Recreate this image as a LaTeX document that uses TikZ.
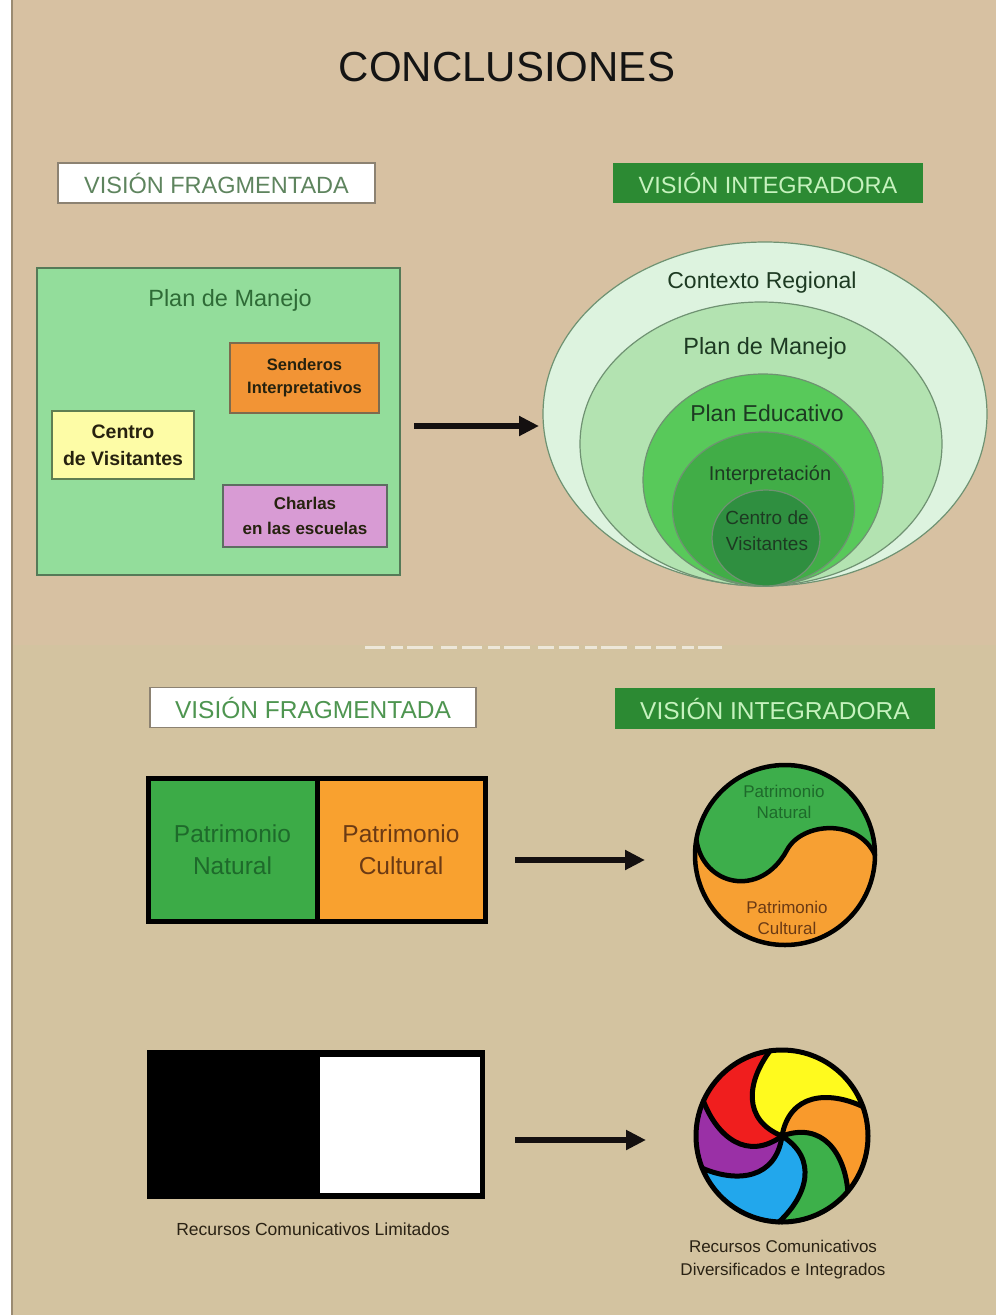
\documentclass[tikz,border=0pt]{standalone}
\usepackage{fontspec}
\setmainfont{Liberation Sans}
\usetikzlibrary{arrows.meta,calc}
\definecolor{bgtop}{HTML}{D7C1A2}
\definecolor{bgbot}{HTML}{D3C3A0}
\definecolor{edgeline}{HTML}{9A8B72}
\definecolor{titlecol}{HTML}{141414}
\definecolor{hdrborder}{HTML}{8C8272}
\definecolor{hdrtextA}{HTML}{5E845E}
\definecolor{hdrtextB}{HTML}{4E9550}
\definecolor{hdrfill}{HTML}{2C8A33}
\definecolor{hdrtextR}{HTML}{C6F2BE}
\definecolor{pmfill}{HTML}{93DD9B}
\definecolor{pmborder}{HTML}{557A58}
\definecolor{pmtext}{HTML}{2E6B36}
\definecolor{senfill}{HTML}{F29435}
\definecolor{senborder}{HTML}{7D6B4E}
\definecolor{cenfill}{HTML}{FDFCA6}
\definecolor{cenborder}{HTML}{5F7E52}
\definecolor{chafill}{HTML}{D89BD4}
\definecolor{chaborder}{HTML}{5E6D62}
\definecolor{boxtext}{HTML}{26220F}
\definecolor{arrowcol}{HTML}{141010}
\definecolor{ea}{HTML}{DDF3DF}
\definecolor{eb}{HTML}{B3E3B1}
\definecolor{ec}{HTML}{58C95A}
\definecolor{ed}{HTML}{41AD47}
\definecolor{ee}{HTML}{2F8F40}
\definecolor{ellborder}{HTML}{6F9272}
\definecolor{elltext}{HTML}{1D3A22}
\definecolor{patgreen}{HTML}{3CAB47}
\definecolor{patorange}{HTML}{F9A12F}
\definecolor{natText}{HTML}{1E6A2B}
\definecolor{culText}{HTML}{6B3A14}
\definecolor{yygreen}{HTML}{3DAE4B}
\definecolor{yyorange}{HTML}{F7A033}
\definecolor{rwred}{HTML}{F01E1E}
\definecolor{rwyellow}{HTML}{FFFA1E}
\definecolor{rworange}{HTML}{F99A2C}
\definecolor{rwgreen}{HTML}{3DB04A}
\definecolor{rwblue}{HTML}{22A7EC}
\definecolor{rwpurple}{HTML}{9A30A6}
\definecolor{captext}{HTML}{2A2214}
\tikzset{
  hdrleft/.style={draw=hdrborder, line width=1.5pt, fill=white, inner sep=0pt},
  hdrright/.style={fill=hdrfill, text=hdrtextR, inner sep=0pt},
  smallbox/.style={line width=1.3pt, inner sep=0pt, align=center, text=boxtext},
  bigarrow/.style={draw=arrowcol, line width=6pt, -{Triangle[length=20pt,width=19pt]}},
  elltxt/.style={text=elltext, inner sep=0pt},
  ellline/.style={draw=ellborder, line width=1.2pt},
  pat/.style={draw=black, line width=5pt, inner sep=0pt, align=center},
}
\begin{document}
\begin{tikzpicture}[x=1pt,y=1pt]
\useasboundingbox (0,0) rectangle (996,-1315);
% background
\fill[bgtop] (0,0) rectangle (996,-645);
\fill[bgbot] (0,-645) rectangle (996,-1315);
\fill[white] (0,0) rectangle (11,-1315);
\fill[edgeline] (11,0) rectangle (13,-1315);

% title
\node[font=\fontsize{42}{50}\selectfont, text=titlecol, inner sep=0pt] (title) at (507,-67) {CONCLUSIONES};

% top headers
\node[hdrleft, minimum width=317pt, minimum height=40pt, text=hdrtextA, font=\fontsize{23.5}{28}\selectfont] (vf1) at (216.5,-183) {VISIÓN FRAGMENTADA};
\node[hdrright, minimum width=310pt, minimum height=40pt, font=\fontsize{23.5}{28}\selectfont] (vi1) at (768,-183) {VISIÓN INTEGRADORA};

% fragmented plan
\node[draw=pmborder, fill=pmfill, line width=1.8pt, minimum width=363pt, minimum height=307pt, inner sep=0pt] (pm) at (218.5,-421.5) {};
\node[text=pmtext, font=\fontsize{23.5}{28}\selectfont, inner sep=0pt] (pmt) at (230,-300) {Plan de Manejo};
\node[smallbox, draw=senborder, fill=senfill, minimum width=149pt, minimum height=70pt, font=\bfseries\fontsize{16.5}{23}\selectfont] (sen) at (304.5,-378) {Senderos\\Interpretativos};
\node[smallbox, draw=cenborder, fill=cenfill, minimum width=142pt, minimum height=68pt, font=\bfseries\fontsize{19.5}{27}\selectfont] (cen) at (123,-445) {Centro\\de Visitantes};
\node[smallbox, draw=chaborder, fill=chafill, minimum width=164pt, minimum height=62pt, font=\bfseries\fontsize{17}{25}\selectfont] (cha) at (305,-516) {Charlas\\en las escuelas};

% arrow 1
\coordinate (a1s) at (414,-426);
\coordinate (a1e) at (539,-426);
\draw[bigarrow] (a1s) -- (a1e);

% nested ellipses
\filldraw[ellline, fill=ea] (765,-414) ellipse [x radius=222, y radius=172];
\filldraw[ellline, fill=eb] (761,-444) ellipse [x radius=181, y radius=142];
\filldraw[ellline, fill=ec] (763,-480) ellipse [x radius=120, y radius=106];
\filldraw[ellline, fill=ed] (763.5,-509) ellipse [x radius=91, y radius=77];
\filldraw[ellline, fill=ee] (766,-538) ellipse [x radius=54, y radius=48];
\node[elltxt, font=\fontsize{23}{28}\selectfont] (ctx) at (762,-283) {Contexto Regional};
\node[elltxt, font=\fontsize{23.5}{28}\selectfont] (epm) at (765,-348) {Plan de Manejo};
\node[elltxt, font=\fontsize{23}{28}\selectfont] (epe) at (767,-413) {Plan Educativo};
\node[elltxt, font=\fontsize{20}{24}\selectfont] (eint) at (770,-475) {Interpretación};
\node[elltxt, align=center, font=\fontsize{19}{26}\selectfont] (ecv) at (767,-531) {Centro de\\Visitantes};

% artifact line
\coordinate (artl) at (365,-647);
\coordinate (artr) at (722,-647);
\draw[white, opacity=0.6, line width=3pt, dash pattern=on 20pt off 6pt on 12pt off 4pt on 26pt off 8pt on 16pt off 5pt] (artl) -- (artr);

% bottom headers
\node[hdrleft, minimum width=326pt, minimum height=40pt, text=hdrtextB, font=\fontsize{24.5}{29}\selectfont] (vf2) at (313,-707.5) {VISIÓN FRAGMENTADA};
\node[hdrright, minimum width=320pt, minimum height=41pt, font=\fontsize{24.5}{29}\selectfont] (vi2) at (775,-708.5) {VISIÓN INTEGRADORA};

% patrimonio boxes
\node[pat, fill=patgreen, text=natText, minimum width=169pt, minimum height=143pt, font=\fontsize{24.5}{32}\selectfont] (pn) at (232.5,-849.5) {Patrimonio\\Natural};
\node[pat, fill=patorange, text=culText, minimum width=168pt, minimum height=143pt, font=\fontsize{24.5}{32}\selectfont] (pc) at (401,-849.5) {Patrimonio\\Cultural};

% arrow 2
\coordinate (a2s) at (515,-860);
\coordinate (a2e) at (645,-860);
\draw[bigarrow] (a2s) -- (a2e);

% yin-yang
\coordinate (yy) at (785,-855);
\fill[yyorange] (yy) circle[radius=90];
\fill[yygreen] (696.4,-839.4) .. controls (702,-885) and (760,-900) .. (787,-850) .. controls (802,-822) and (858,-818) .. (875,-855) arc[start angle=0, end angle=170, radius=90] -- cycle;
\draw[black, line width=4.5pt] (696.4,-839.4) .. controls (702,-885) and (760,-900) .. (787,-850) .. controls (802,-822) and (858,-818) .. (875,-855);
\draw[black, line width=4.5pt] (yy) circle[radius=90];
\node[text=natText, align=center, inner sep=0pt, font=\fontsize{17}{21}\selectfont] (yyn) at (784,-802) {Patrimonio\\Natural};
\node[text=culText, align=center, inner sep=0pt, font=\fontsize{17}{21}\selectfont] (yyk) at (787,-917.5) {Patrimonio\\Cultural};

% black / white
\node[fill=black, minimum width=338pt, minimum height=149pt, inner sep=0pt] (bwout) at (316,-1124.5) {};
\node[fill=white, minimum width=160pt, minimum height=136pt, inner sep=0pt] (bwin) at (400,-1125) {};
\node[text=captext, font=\fontsize{17.5}{21}\selectfont, inner sep=0pt] (cap1) at (313,-1229) {Recursos Comunicativos Limitados};

% arrow 3
\coordinate (a3s) at (515,-1140);
\coordinate (a3e) at (646,-1140);
\draw[bigarrow] (a3s) -- (a3e);

% rainbow pinwheel
\coordinate (rw) at (782,-1136);
\foreach \a/\b/\c in {98/156/rwred, 20/98/rwyellow, -40/20/rworange, -92/-40/rwgreen, -158/-92/rwblue, 156/202/rwpurple}{
  \fill[\c] (rw) .. controls ($(rw)+(\a+60:43)$) and ($(rw)+(\a:86)+(\a+135:38.7)$) .. ($(rw)+(\a:86)$)
    arc[start angle=\a, end angle=\b, radius=86]
    .. controls ($(rw)+(\b:86)+(\b+135:38.7)$) and ($(rw)+(\b+60:43)$) .. (rw) -- cycle;
}
\foreach \a in {98,20,-40,-92,-158,156}{
  \draw[black, line width=5pt, line cap=round] (rw) .. controls ($(rw)+(\a+60:43)$) and ($(rw)+(\a:86)+(\a+135:38.7)$) .. ($(rw)+(\a:86)$);
}
\draw[black, line width=5pt] (rw) circle[radius=86];
\node[text=captext, align=center, inner sep=0pt, font=\fontsize{17}{23}\selectfont] (cap2) at (783,-1259.5) {Recursos Comunicativos\\Diversificados e Integrados};
\end{tikzpicture}
\end{document}
